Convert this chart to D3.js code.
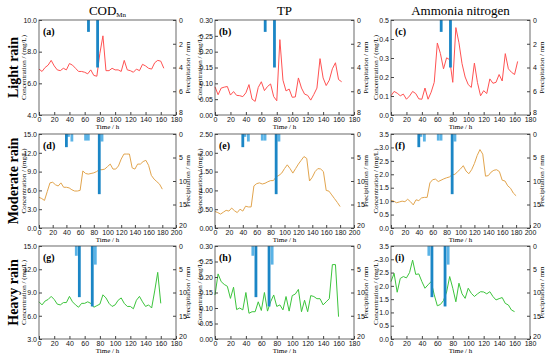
<!DOCTYPE html>
<html>
<head>
<meta charset="utf-8">
<script src="https://cdn.jsdelivr.net/npm/d3@7"></script>
<style>
    body { margin: 0; background: #fff; }
    svg { font-family: "Liberation Serif", "Times New Roman", serif; }
</style>
</head>
<body>
<svg id="chart" width="550" height="360"></svg>
<script>
// 时间轴（小时）
const lightTimes = [0, 4, 8, 12, 16, 20, 24, 28, 32, 36, 40, 44, 48, 52, 56, 60, 64, 68, 72, 76,
    80, 84, 88, 92, 96, 100, 104, 108, 112, 116, 120, 124, 128, 132, 136, 140, 144, 148, 152, 156, 160, 164];
const moderateTimes = [0, 4, 8, 12, 16, 20, 24, 28, 32, 36, 40, 44, 48, 52, 56, 60, 64, 68, 72, 76,
    80, 84, 88, 92, 96, 100, 104, 108, 112, 116, 120, 124, 128, 132, 136, 140, 144, 148, 152, 156,
    160, 164, 168, 172, 176, 180];
const heavyTimes = [0, 4, 8, 12, 16, 20, 24, 28, 32, 36, 40, 44, 48, 52, 56, 60, 64, 68, 72, 76,
    80, 84, 88, 92, 96, 100, 104, 108, 112, 116, 120, 124, 128, 132, 136, 140, 144, 148, 152, 156, 160];

// 小雨
const lightCod = [6.9, 6.75, 7.0, 7.15, 7.45, 7.1, 6.85, 6.8, 6.95, 6.85, 7.25, 7.15, 6.95, 6.75, 6.75, 6.7, 6.6, 6.85, 6.5, 6.45,
    7.9, 9.0, 6.8, 6.8, 6.95, 6.85, 6.85, 6.75, 7.45, 6.85, 6.8, 6.7, 6.9, 6.8, 7.2, 7.1, 6.95, 6.9, 7.3, 7.45, 7.4, 6.95];
const lightTp = [0.089, 0.064, 0.085, 0.088, 0.09, 0.063, 0.074, 0.062, 0.061, 0.058, 0.07, 0.096, 0.05, 0.043, 0.087, 0.105, 0.077, 0.09, 0.098, 0.058,
    0.045, 0.238, 0.11, 0.076, 0.082, 0.056, 0.057, 0.117, 0.085, 0.066, 0.062, 0.047, 0.065, 0.085, 0.178, 0.117, 0.093, 0.11, 0.146, 0.165, 0.112, 0.105];
const lightNh = [0.101, 0.124, 0.115, 0.101, 0.11, 0.083, 0.1, 0.124, 0.113, 0.085, 0.083, 0.142, 0.083, 0.12, 0.172, 0.379, 0.323, 0.243, 0.301, 0.291,
    0.172, 0.46, 0.38, 0.27, 0.2, 0.16, 0.145, 0.273, 0.17, 0.101, 0.128, 0.113, 0.19, 0.167, 0.172, 0.213, 0.179, 0.323, 0.243, 0.225, 0.213, 0.282];

// 中雨
const moderateCod = [4.9, 4.7, 4.4, 5.8, 7.2, 7.3, 6.9, 6.7, 7.2, 6.5, 6.5, 6.4, 6.1, 5.9, 5.9, 6.0, 9.1, 8.7, 8.6, 8.7,
    8.8, 9.0, 9.3, 9.3, 9.4, 9.8, 10.2, 9.4, 9.4, 9.9, 11.0, 11.8, 11.8, 11.8, 9.6, 9.4, 10.2, 10.2, 10.6, 10.8,
    10.0, 8.4, 7.8, 7.4, 7.0, 6.2];
const moderateTp = [0.44, 0.41, 0.37, 0.42, 0.47, 0.45, 0.53, 0.46, 0.41, 0.5, 0.45, 0.58, 0.56, 0.56, 1.12, 1.18, 1.2, 1.17, 1.19, 1.23,
    1.26, 1.26, 1.36, 1.4, 1.46, 1.58, 1.68, 1.58, 1.46, 1.58, 1.7, 1.8, 1.9, 1.85, 1.25, 1.35, 1.5, 1.58, 1.57, 1.5,
    1.0, 0.98, 0.88, 0.78, 0.68, 0.57];
const moderateNh = [1.03, 1.0, 0.94, 0.97, 1.0, 0.98, 1.07, 0.98, 0.86, 1.05, 1.02, 1.12, 1.14, 1.14, 1.68, 1.8, 1.82, 1.73, 1.78, 1.83,
    1.87, 1.9, 1.98, 2.0, 2.1, 2.2, 2.32, 2.12, 2.02, 2.17, 2.4, 2.7, 2.92, 2.75, 1.93, 1.95, 2.08, 2.15, 2.17, 2.1,
    1.78, 1.75, 1.57, 1.48, 1.3, 1.2];

// 大雨
const heavyCod = [7.8, 7.4, 7.9, 8.1, 8.5, 8.1, 7.5, 7.4, 7.7, 7.7, 8.5, 7.8, 7.4, 7.1, 7.6, 7.6, 7.8, 7.6, 7.1, 7.3,
    7.5, 8.7, 8.3, 7.6, 7.2, 7.4, 8.0, 8.3, 7.6, 7.2, 7.2, 6.9, 8.0, 8.5, 7.8, 7.2, 7.4, 7.0, 9.2, 11.6, 7.6];
const heavyTp = [0.142, 0.21, 0.185, 0.176, 0.17, 0.131, 0.167, 0.095, 0.1, 0.094, 0.15, 0.083, 0.088, 0.088, 0.12, 0.092, 0.15, 0.09, 0.12, 0.142,
    0.105, 0.11, 0.094, 0.137, 0.09, 0.14, 0.145, 0.16, 0.088, 0.125, 0.088, 0.14, 0.137, 0.13, 0.13, 0.11, 0.12, 0.13, 0.24, 0.24, 0.072];
const heavyNh = [2.16, 2.47, 1.76, 2.28, 2.35, 2.3, 2.5, 2.97, 2.43, 2.45, 2.16, 1.91, 2.04, 2.16, 1.66, 1.25, 1.3, 1.45, 1.77, 2.35,
    1.91, 1.4, 2.1, 1.7, 1.53, 1.91, 1.72, 1.6, 1.7, 1.78, 1.77, 1.7, 1.78, 1.6, 1.47, 1.52, 1.56, 1.34, 1.28, 1.09, 1.03];

// 降水量（mm）
const lightRainTimes = [65, 77];
const lightRainMm = [1.0, 4.0];
const moderateRainTimes = [40, 88];
const moderateRainMm = [2.8, 12.8];
const moderateRainSideTimes = [43, 48, 68, 72, 92];
const moderateRainSideMm = [0.6, 1.6, 1.4, 1.4, 1.6];
const heavyRainTimes = [53, 70];
const heavyRainMm = [11.0, 13.0];
const heavyRainSideTimes = [49, 74];
const heavyRainSideMm = [2.1, 4.0];

// 刻度
const timeTicks180 = [0, 20, 40, 60, 80, 100, 120, 140, 160, 180];
const timeTicks200 = [0, 20, 40, 60, 80, 100, 120, 140, 160, 180, 200];
const rainTicks8 = [0, 2, 4, 6, 8];
const rainTicks20 = [0, 5, 10, 15, 20];
const codLightTicks = [4, 6, 8, 10];
const codTicks = [0, 3, 6, 9, 12, 15];
const codHeavyTicks = [3, 6, 9, 12, 15];
const tpTicks = [0, 0.05, 0.1, 0.15, 0.2, 0.25, 0.3];
const tpModerateTicks = [0, 0.5, 1, 1.5, 2, 2.5];
const nhLightTicks = [0, 0.1, 0.2, 0.3, 0.4, 0.5];
const nhTicks = [0, 0.5, 1, 1.5, 2, 2.5, 3, 3.5];

const columnTitles = ["COD", "TP", "Ammonia nitrogen"];
const rowTitles = ["Light rain", "Moderate rain", "Heavy rain"];
const panelLabels = ["(a)", "(b)", "(c)", "(d)", "(e)", "(f)", "(g)", "(h)", "(i)"];

const svg = d3.select("#chart");

// 版面位置
const colX = [[39, 176], [215, 354], [391, 530]];
const rowY = [[20, 115], [134, 228], [246, 339]];
const lineColors = ["#ff5252", "#e2a54e", "#3cc43c"];
const barDark = "#1b86c6";
const barLight = "#5ab3e6";

const rows = [
    {
        times: lightTimes, xTicks: timeTicks180, rainTicks: rainTicks8,
        rain: [lightRainTimes, lightRainMm], side: [[], []],
        series: [
            {values: lightCod, ticks: codLightTicks, fmt: ".1f"},
            {values: lightTp, ticks: tpTicks, fmt: ".2f"},
            {values: lightNh, ticks: nhLightTicks, fmt: ".1f"}
        ]
    },
    {
        times: moderateTimes, xTicks: timeTicks200, rainTicks: rainTicks20,
        rain: [moderateRainTimes, moderateRainMm], side: [moderateRainSideTimes, moderateRainSideMm],
        series: [
            {values: moderateCod, ticks: codTicks, fmt: ".1f"},
            {values: moderateTp, ticks: tpModerateTicks, fmt: ".2f"},
            {values: moderateNh, ticks: nhTicks, fmt: ".1f"}
        ]
    },
    {
        times: heavyTimes, xTicks: timeTicks180, rainTicks: rainTicks20,
        rain: [heavyRainTimes, heavyRainMm], side: [heavyRainSideTimes, heavyRainSideMm],
        series: [
            {values: heavyCod, ticks: codHeavyTicks, fmt: ".1f"},
            {values: heavyTp, ticks: tpTicks, fmt: ".2f"},
            {values: heavyNh, ticks: nhTicks, fmt: ".1f"}
        ]
    }
];

/**
 * 绘制单个面板
 */
function drawPanel(r, c) {
    let row = rows[r];
    let s = row.series[c];
    let [x0, x1] = colX[c];
    let [y0, y1] = rowY[r];

    let x = d3.scaleLinear().domain(d3.extent(row.xTicks)).range([x0, x1]);
    let y = d3.scaleLinear().domain(d3.extent(s.ticks)).range([y1, y0]);
    let rain = d3.scaleLinear().domain(d3.extent(row.rainTicks)).range([y0, y1]);

    let g = svg.append("g");

    // 折线
    let line = d3.line()
        .x((d, i) => x(row.times[i]))
        .y(d => y(d));

    g.append("path")
        .datum(s.values)
        .attr("fill", "none")
        .attr("stroke", lineColors[r])
        .attr("stroke-width", 1)
        .attr("d", line);

    // 降水柱（自上而下）
    let bars = [];
    row.side[0].forEach((t, i) => bars.push({t: t, v: row.side[1][i], color: barLight}));
    row.rain[0].forEach((t, i) => bars.push({t: t, v: row.rain[1][i], color: barDark}));

    g.selectAll(".bar")
        .data(bars)
        .enter()
        .append("rect")
        .attr("x", d => x(d.t) - 1.4)
        .attr("y", rain(0))
        .attr("width", 2.8)
        .attr("height", d => rain(d.v) - rain(0))
        .attr("fill", d => d.color);

    // 坐标轴
    let axisStyle = sel => {
        sel.selectAll("text").attr("font-size", 7).attr("fill", "#111");
        sel.selectAll("line").attr("stroke", "#444");
        sel.select(".domain").remove();
    };

    g.append("g")
        .attr("transform", `translate(0,${y1})`)
        .call(d3.axisBottom(x).tickValues(row.xTicks).tickSize(-3).tickPadding(2))
        .call(axisStyle);

    g.append("g")
        .attr("transform", `translate(${x0},0)`)
        .call(d3.axisLeft(y).tickValues(s.ticks).tickFormat(d3.format(s.fmt)).tickSize(-3).tickPadding(2))
        .call(axisStyle);

    let right = g.append("g")
        .attr("transform", `translate(${x1},0)`)
        .call(d3.axisRight(rain).tickValues(row.rainTicks).tickSize(-3).tickPadding(3))
        .call(axisStyle);
    // 右轴末端标签略微上移，避免与横轴标签重叠
    right.selectAll(".tick text").filter((d, i, n) => i === n.length - 1).attr("dy", "-0.1em");

    g.append("rect")
        .attr("x", x0)
        .attr("y", y0)
        .attr("width", x1 - x0)
        .attr("height", y1 - y0)
        .attr("fill", "none")
        .attr("stroke", "#444")
        .attr("stroke-width", 0.8);

    // 文字
    g.append("text")
        .attr("x", x0 + 4)
        .attr("y", y0 + 15)
        .attr("font-size", 10)
        .attr("font-weight", "bold")
        .text(panelLabels[r * 3 + c]);

    g.append("text")
        .attr("x", (x0 + x1) / 2)
        .attr("y", y1 + 14)
        .attr("text-anchor", "middle")
        .attr("font-size", 7)
        .text("Time / h");

    g.append("text")
        .attr("transform", `translate(${x0 - 13},${(y0 + y1) / 2}) rotate(-90)`)
        .attr("text-anchor", "middle")
        .attr("font-size", 7)
        .text("Concentration / (mg/L)");

    g.append("text")
        .attr("transform", `translate(${x1 + 14},${(y0 + y1) / 2}) rotate(-90)`)
        .attr("text-anchor", "middle")
        .attr("font-size", 7)
        .text("Precipitation / mm");
}

function init() {
    for (let r = 0; r < 3; r++) {
        for (let c = 0; c < 3; c++) {
            drawPanel(r, c);
        }
    }

    // 列标题
    columnTitles.forEach((t, c) => {
        let txt = svg.append("text")
            .attr("x", (colX[c][0] + colX[c][1]) / 2)
            .attr("y", 15)
            .attr("text-anchor", "middle")
            .attr("font-size", 13)
            .text(t);
        if (c === 0) {
            txt.append("tspan")
                .attr("font-size", 7)
                .attr("dy", 2)
                .text("Mn");
        }
    });

    // 行标题
    rowTitles.forEach((t, r) => {
        svg.append("text")
            .attr("transform", `translate(18,${(rowY[r][0] + rowY[r][1]) / 2}) rotate(-90)`)
            .attr("text-anchor", "middle")
            .attr("font-size", 14)
            .attr("font-weight", "bold")
            .text(t);
    });
}

init();
</script>
</body>
</html>
